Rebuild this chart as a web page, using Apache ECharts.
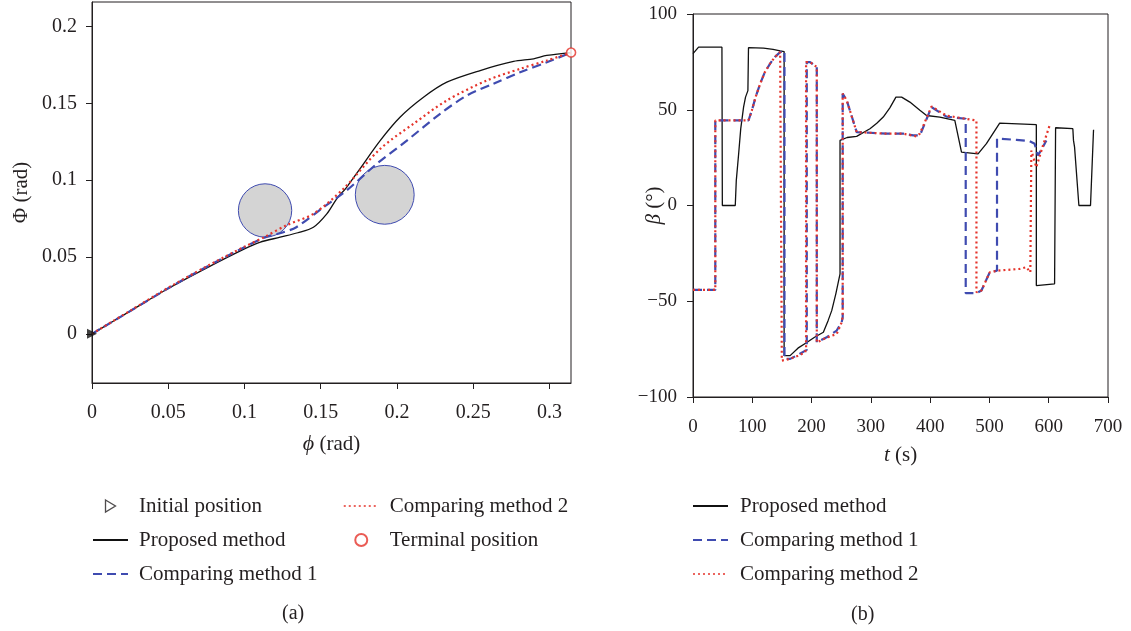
<!DOCTYPE html>
<html><head><meta charset="utf-8">
<script src="https://cdn.jsdelivr.net/npm/echarts@6/dist/echarts.min.js"></script>
<style>html,body{margin:0;padding:0;background:#fff}#c{width:1131px;height:631px}</style>
</head><body><div id="c"></div>
<script>
// ---------- Panel (a): path in (phi, Phi) ----------
const pathXTicks = [0, 0.05, 0.1, 0.15, 0.2, 0.25, 0.3];
const pathYTicks = [0, 0.05, 0.1, 0.15, 0.2];
const pathProposed = [[0,0],[0.025,0.0148],[0.05,0.0295],[0.075,0.0428],[0.1,0.0553],[0.11,0.0596],[0.1234,0.0629],[0.135,0.0658],[0.1452,0.0694],[0.154,0.0781],[0.1605,0.0879],[0.167,0.0954],[0.1757,0.1074],[0.189,0.1258],[0.202,0.141],[0.2174,0.154],[0.2327,0.1638],[0.2546,0.1714],[0.2765,0.1773],[0.2896,0.179],[0.2983,0.1812],[0.3142,0.1831]];
const pathMethod1 = [[0,0],[0.025,0.0148],[0.05,0.0297],[0.075,0.0435],[0.1,0.0564],[0.1135,0.0628],[0.125,0.066],[0.134,0.0694],[0.1518,0.0824],[0.167,0.0933],[0.1868,0.1107],[0.2065,0.1258],[0.2283,0.1432],[0.2458,0.1551],[0.2633,0.1628],[0.2808,0.1703],[0.2983,0.1768],[0.3142,0.1831]];
const pathMethod2 = [[0,0],[0.025,0.015],[0.05,0.03],[0.075,0.0438],[0.1,0.0567],[0.1135,0.0632],[0.1278,0.0708],[0.1452,0.0781],[0.1649,0.0944],[0.189,0.1204],[0.2108,0.1367],[0.2327,0.1519],[0.2589,0.1649],[0.2808,0.1725],[0.2983,0.1779],[0.3142,0.1831]];
const initialPos = [[0, 0]];
const terminalPos = [[0.3142, 0.1831]];
// obstacles: [centre x, centre y, radius]
const obstacles = [[0.1135, 0.0803, 0.0175], [0.192, 0.0905, 0.0193]];

// ---------- Panel (b): beta over time ----------
const betaXTicks = [0, 100, 200, 300, 400, 500, 600, 700];
const betaYTicks = [-100, -50, 0, 50, 100];
const betaProposed = [[0,79.3],[9.4,82.7],[48.8,82.7],[49.5,0],[71.3,0],[73,13],[77,27],[80.5,40],[85.3,51.4],[88.6,56.6],[92.6,60],[93.6,82.4],[118.9,82.2],[135,81.5],[147,80.7],[153.7,80.4],[153.7,-78.4],[163.8,-78.4],[177,-74.5],[191.9,-71.5],[205,-68.8],[219.9,-66.2],[228,-60],[234,-54.9],[241,-46],[248,-35.7],[248,34],[260,35.5],[276,36.1],[298.5,40.1],[310,43],[320.9,46.2],[332,51],[342.3,56.6],[351.9,56.6],[365.8,54],[382.7,49.7],[393.9,47],[416.3,46.2],[441.6,44.4],[452.9,27.9],[480.8,27],[494.9,32.3],[517.3,43],[579.1,42.2],[579.1,-41.8],[609.9,-40.9],[611.6,40.6],[640.7,40.1],[641.8,34],[643.6,30.5],[650.9,0],[670.5,0],[675.6,39.6]];
const betaMethod1 = [[0,-44.1],[37.6,-44.1],[37.6,44.4],[93.6,44.4],[99.3,49.7],[106,57],[113.3,63.6],[121,69.5],[130.1,74.1],[138,77.5],[147,80.1],[154.3,80.7],[154.3,-80.1],[163.9,-80.1],[177,-78],[191.9,-75.4],[191.9,74.9],[197.5,74.9],[208.8,72.3],[208.8,-71.4],[225.6,-68.8],[242.4,-65.3],[250.8,-61],[252.5,-58.4],[252.5,58.4],[259.3,54.9],[276.1,38.3],[298.5,38],[326.6,37.5],[354.5,37.5],[371.5,36.6],[382.7,36.6],[402.3,51.4],[427.6,46.4],[460,45.3],[460,-45.8],[478,-45.8],[486.5,-44.4],[500.5,-34.9],[512.8,-34],[512.8,34.9],[516,35.4],[545.5,34.3],[567.8,33.6],[576.3,32.2],[581.8,26.1],[590.2,30.5],[596,34]];
const betaMethod2 = [[0,-44.1],[37.6,-44.1],[37.6,44.4],[93.6,44.4],[99.3,49.7],[106,57],[113.3,63.6],[121,69.5],[130.1,74.1],[138,77.5],[147,80.1],[149.8,80.4],[149.8,-81],[163.8,-80.1],[177,-78.5],[189,-76.7],[190.7,-75],[190.7,74.9],[197.5,74.9],[208.8,72.3],[208.8,-71.5],[225.6,-69],[242.4,-67.1],[250.8,-61],[252.5,-58],[252.5,58.4],[259.3,54.9],[276.1,38.3],[298.5,38],[326.6,37.5],[354.5,37.5],[377.1,36.1],[382.7,37.5],[402.3,51.7],[427.6,46.9],[478.1,44.4],[478.1,-45.3],[486.5,-44.4],[500.5,-34.9],[514.5,-34],[551,-33.1],[562.3,-32.2],[569,-34.9],[570.7,28.7],[579.1,20],[590,31],[601.5,41.8]];

const FONT = "'Liberation Serif','Times New Roman',serif";
const INK = '#231F20';
const BLUE = '#3F4BB0';
const RED = '#E5332A';

function valueAxis(o) {
  return Object.assign({
    type: 'value',
    splitLine: { show: false },
    axisLine: { show: true, onZero: false, lineStyle: { color: INK, width: 1 } },
    nameLocation: 'middle',
    nameMoveOverlap: false,
    nameTextStyle: { color: INK, fontFamily: FONT, fontSize: 21 }
  }, o);
}
function ticks(vals) {
  return { show: true, inside: false, length: 6, lineStyle: { color: INK }, customValues: vals };
}
const minusFmt = v => String(v).replace('-', '\u2212');

const chart = echarts.init(document.getElementById('c'), null, { renderer: 'canvas' });
const legendText = { color: INK, fontFamily: FONT, fontSize: 21, lineHeight: 24 };
const noDot = { color: 'rgba(0,0,0,0)', borderWidth: 0, opacity: 0 };

chart.setOption({
  animation: false,
  backgroundColor: '#fff',
  grid: [
    { left: 92, right: 560, top: 2, bottom: 248, show: true, borderColor: INK, borderWidth: 1, backgroundColor: 'transparent' },
    { left: 693, right: 23, top: 14, bottom: 234, show: true, borderColor: INK, borderWidth: 1, backgroundColor: 'transparent' }
  ],
  xAxis: [
    valueAxis({ gridIndex: 0, min: 0, max: Math.PI / 10,
      axisLabel: { color: INK, fontFamily: FONT, fontSize: 20, margin: 20, customValues: pathXTicks },
      axisTick: ticks(pathXTicks),
      name: '{i|ϕ} (rad)', nameGap: 50,
      nameTextStyle: { color: INK, fontFamily: FONT, fontSize: 21, rich: { i: { fontStyle: 'italic', fontFamily: FONT, fontSize: 22, color: INK } } } }),
    valueAxis({ gridIndex: 1, min: 0, max: 700, interval: 100,
      axisLabel: { color: INK, fontFamily: FONT, fontSize: 19, margin: 21, customValues: betaXTicks },
      axisTick: ticks(betaXTicks),
      name: '{i|t} (s)', nameGap: 48,
      nameTextStyle: { color: INK, fontFamily: FONT, fontSize: 21, rich: { i: { fontStyle: 'italic', fontFamily: FONT, fontSize: 21, color: INK } } } })
  ],
  yAxis: [
    valueAxis({ gridIndex: 0, min: -0.032, max: 0.216,
      axisLabel: { color: INK, fontFamily: FONT, fontSize: 20, margin: 15, customValues: pathYTicks },
      axisTick: ticks(pathYTicks),
      name: 'Φ (rad)', nameGap: 60 }),
    valueAxis({ gridIndex: 1, min: -100, max: 100, interval: 50,
      axisLabel: { color: INK, fontFamily: FONT, fontSize: 19, margin: 16, customValues: betaYTicks, formatter: minusFmt },
      axisTick: ticks(betaYTicks),
      name: '{i|β} (°)', nameGap: 28,
      nameTextStyle: { color: INK, fontFamily: FONT, fontSize: 21, rich: { i: { fontStyle: 'italic', fontFamily: FONT, fontSize: 21, color: INK } } } })
  ],
  legend: [
    { left: 92, top: 494, padding: 0, orient: 'vertical', itemWidth: 35, itemHeight: 12, itemGap: 10, symbolKeepAspect: true,
      textStyle: Object.assign({ padding: [0, 0, 0, 6] }, legendText), selectedMode: false,
      data: [
        { name: 'Initial position', icon: 'path://M0,0 L10,6 L0,12 Z', itemStyle: { color: '#fff', borderColor: INK, borderWidth: 1.3 } },
        { name: 'Proposed method', itemStyle: noDot },
        { name: 'Comparing method 1', itemStyle: noDot }
      ] },
    { left: 343, top: 494, padding: 0, orient: 'vertical', itemWidth: 35, itemHeight: 12, itemGap: 10, symbolKeepAspect: true,
      textStyle: Object.assign({ padding: [0, 0, 0, 6] }, legendText), selectedMode: false,
      data: [
        { name: 'Comparing method 2', lineStyle: { width: 1.5 }, itemStyle: noDot },
        { name: 'Terminal position' }
      ] },
    { left: 692, top: 494, padding: 0, orient: 'vertical', itemWidth: 35, itemHeight: 10, itemGap: 10,
      textStyle: Object.assign({ padding: [0, 0, 0, 7] }, legendText), selectedMode: false,
      data: [
        { name: 'Proposed method', itemStyle: noDot },
        { name: 'Comparing method 1', itemStyle: noDot },
        { name: 'Comparing method 2', lineStyle: { width: 1.5 }, itemStyle: noDot }
      ] }
  ],
  graphic: [
    { type: 'text', left: 282, top: 604, style: { text: '(a)', fill: INK, font: '20px ' + FONT } },
    { type: 'text', left: 851, top: 605, style: { text: '(b)', fill: INK, font: '20px ' + FONT } }
  ],
  series: [
    { type: 'custom', name: 'Obstacle', xAxisIndex: 0, yAxisIndex: 0, z: 1, data: obstacles,
      encode: { x: 0, y: 1 },
      renderItem: function (params, api) {
        const c = api.coord([api.value(0), api.value(1)]);
        const s = api.size([api.value(2), api.value(2)]);
        return { type: 'circle', shape: { cx: c[0], cy: c[1], r: s[0] },
          style: { fill: '#D4D4D4', stroke: BLUE, lineWidth: 1 } };
      } },
    { type: 'line', name: 'Proposed method', xAxisIndex: 0, yAxisIndex: 0, data: pathProposed, smooth: 0.3,
      symbol: 'none', z: 2, lineStyle: { color: '#111', width: 1.3 }, itemStyle: { color: '#111' } },
    { type: 'line', name: 'Comparing method 1', xAxisIndex: 0, yAxisIndex: 0, data: pathMethod1, smooth: 0.3,
      symbol: 'none', z: 3, lineStyle: { color: BLUE, width: 2.2, type: [9, 5] }, itemStyle: { color: BLUE } },
    { type: 'line', name: 'Comparing method 2', xAxisIndex: 0, yAxisIndex: 0, data: pathMethod2, smooth: 0.3,
      symbol: 'none', z: 4, lineStyle: { color: RED, width: 2.2, type: [2, 3] }, itemStyle: { color: RED } },
    { type: 'scatter', name: 'Initial position', xAxisIndex: 0, yAxisIndex: 0, data: initialPos, z: 6,
      symbol: 'triangle', symbolRotate: -90, symbolSize: 10, itemStyle: { color: '#111' } },
    { type: 'scatter', name: 'Terminal position', xAxisIndex: 0, yAxisIndex: 0, data: terminalPos, z: 6,
      symbol: 'circle', symbolSize: 9, itemStyle: { color: '#fff', borderColor: RED, borderWidth: 1.6 } },

    { type: 'line', name: 'Proposed method', xAxisIndex: 1, yAxisIndex: 1, data: betaProposed,
      symbol: 'none', z: 2, lineStyle: { color: '#111', width: 1.3 }, itemStyle: { color: '#111' } },
    { type: 'line', name: 'Comparing method 1', xAxisIndex: 1, yAxisIndex: 1, data: betaMethod1,
      symbol: 'none', z: 3, lineStyle: { color: BLUE, width: 2.2, type: [9, 5] }, itemStyle: { color: BLUE } },
    { type: 'line', name: 'Comparing method 2', xAxisIndex: 1, yAxisIndex: 1, data: betaMethod2,
      symbol: 'none', z: 4, lineStyle: { color: RED, width: 2.2, type: [2, 3] }, itemStyle: { color: RED } }
  ]
});
</script>
</body></html>
